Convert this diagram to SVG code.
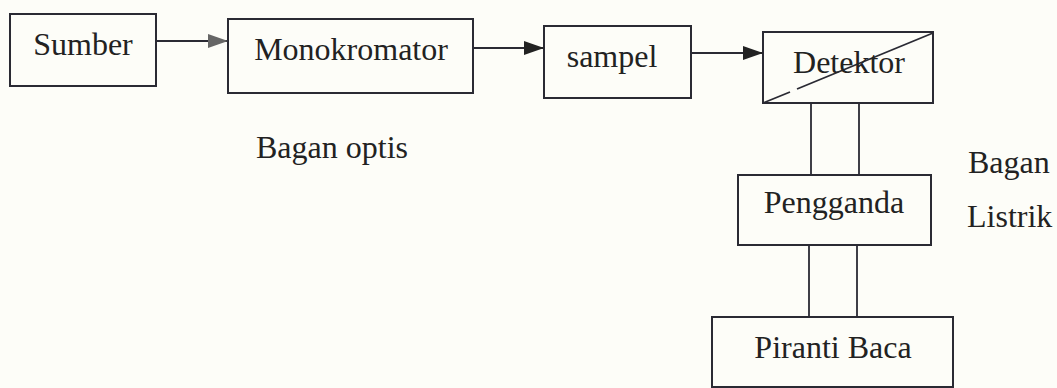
<svg xmlns="http://www.w3.org/2000/svg" width="1057" height="388" viewBox="0 0 1057 388">
  <style>
    .box { fill: none; stroke: #2a2a33; stroke-width: 2; }
    .line { fill: none; stroke: #2a2a33; stroke-width: 1.8; }
    .lbl { font-family: "Liberation Serif", "Times New Roman", serif; font-size: 32px; fill: #222; }
  </style>
  <defs>
    <marker id="arrow" viewBox="0 0 20 14" refX="20" refY="7" markerWidth="20" markerHeight="14" markerUnits="userSpaceOnUse" orient="auto">
      <path d="M0,0 L20,7 L0,14 Z" fill="#222"/>
    </marker>
    <marker id="arrowGrey" viewBox="0 0 20 14" refX="20" refY="7" markerWidth="20" markerHeight="14" markerUnits="userSpaceOnUse" orient="auto">
      <path d="M0,0 L20,7 L0,14 Z" fill="#666"/>
    </marker>
  </defs>

  <rect width="1057" height="388" fill="#fdfdf8"/>

  <!-- optical path -->
  <g id="sumber">
    <rect class="box" x="10" y="14" width="146" height="72"/>
    <text class="lbl" x="83" y="55" text-anchor="middle">Sumber</text>
  </g>
  <g id="monokromator">
    <rect class="box" x="228" y="19" width="245" height="74"/>
    <text class="lbl" x="351" y="60" text-anchor="middle">Monokromator</text>
  </g>
  <g id="sampel">
    <rect class="box" x="544" y="26" width="147" height="72"/>
    <text class="lbl" x="612" y="67" text-anchor="middle">sampel</text>
  </g>
  <g id="detektor">
    <rect class="box" x="763" y="32" width="170" height="71"/>
    <path class="line" d="M763,103 L790,92 M797,89 L933,33"/>
    <text class="lbl" x="849" y="73" text-anchor="middle">Detektor</text>
  </g>

  <!-- electrical path -->
  <g id="pengganda">
    <rect class="box" x="738" y="175" width="193" height="70"/>
    <text class="lbl" x="834" y="213" text-anchor="middle">Pengganda</text>
  </g>
  <g id="piranti-baca">
    <rect class="box" x="712" y="317" width="241" height="70"/>
    <text class="lbl" x="833" y="358" text-anchor="middle">Piranti Baca</text>
  </g>

  <g id="connectors">
    <line class="line" x1="156" y1="41" x2="228" y2="41" marker-end="url(#arrowGrey)"/>
    <line class="line" x1="473" y1="48" x2="544" y2="48" marker-end="url(#arrow)"/>
    <line class="line" x1="691" y1="53" x2="763" y2="53" marker-end="url(#arrow)"/>
    <line class="line" x1="811" y1="103" x2="811" y2="175"/>
    <line class="line" x1="859" y1="103" x2="859" y2="175"/>
    <line class="line" x1="809" y1="245" x2="809" y2="317"/>
    <line class="line" x1="857" y1="245" x2="857" y2="317"/>
  </g>

  <!-- section labels -->
  <g id="labels">
    <text class="lbl" x="256" y="158" font-size="29">Bagan optis</text>
    <text class="lbl" x="968" y="173" font-size="29">Bagan</text>
    <text class="lbl" x="967" y="227" font-size="29">Listrik</text>
  </g>
</svg>
